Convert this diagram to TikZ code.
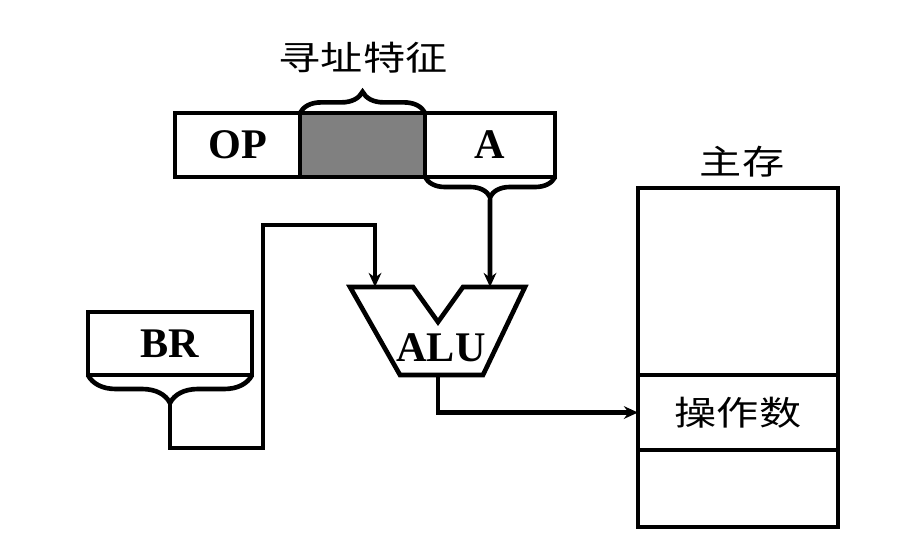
\documentclass[tikz,border=0pt]{standalone}
\usepackage{fontspec}
\setmainfont{Liberation Serif}
\newfontfamily\cjk[FakeStretch=1.25]{Noto Sans CJK SC}
\usetikzlibrary{decorations.pathreplacing,arrows.meta,calc,positioning}

\begin{document}
\begin{tikzpicture}[x=0.025cm,y=0.025cm,line width=3.3pt]
\tikzstyle{cell}=[draw,rectangle,inner sep=0pt,outer sep=0pt,minimum height=1.6cm,font=\fontsize{30}{36}\selectfont\bfseries]
\tikzstyle{hanzi}=[font=\fontsize{24}{28}\selectfont\cjk]
\tikzstyle{wire}=[-{Stealth[length=10pt,width=9pt]}]
\tikzset{curly/.style={decorate,decoration={brace,amplitude=#1}}}
\useasboundingbox (0,0) rectangle (913,550);
% instruction word
\node[cell,minimum width=3.125cm] (op) at (237.5,405) {OP};
\node[cell,minimum width=3.125cm,fill=gray,right=0pt of op] (addr) {};
\node[cell,minimum width=3.25cm,right=0pt of addr] (a) {A};
\node[hanzi] (feature) at (363,492) {寻址特征};
\draw[curly=0.53cm] (addr.north west) -- (addr.north east);
\draw[curly=0.5cm] (a.south east) -- (a.south west);
\coordinate (atip) at ($(a.south)+(0,-20)$);
% base register
\node[cell,minimum width=4.1cm,minimum height=1.575cm] (br) at (170,206.5) {BR};
\draw[curly=0.7cm] (br.south east) -- (br.south west);
\coordinate (brtip) at ($(br.south)+(0,-28)$);
% alu
\draw (350,263) -- (413,263) -- (438,228) -- (463,263) -- (525,263) -- (483,175) -- (400,175) -- cycle;
\node[font=\fontsize{30}{36}\selectfont\bfseries] (alu) at (441,202) {ALU};
\coordinate (aluinl) at (375,263);
\coordinate (aluinr) at (490,263);
\coordinate (aluout) at (438,175);
\coordinate (turn) at (263,325);
% main memory
\node[cell,minimum width=5cm,minimum height=4.675cm] (memtop) at (738,268.5) {};
\node[cell,hanzi,minimum width=5cm,minimum height=1.875cm,below=0pt of memtop] (memop) {操作数};
\node[cell,minimum width=5cm,minimum height=1.925cm,below=0pt of memop] (membot) {};
\node[hanzi] (mem) at (742,388) {主存};
% data paths
\draw[wire] (atip) -- (aluinr);
\draw[wire] (brtip) -- ++(0,-45) -| (turn) -| (aluinl);
\draw[wire] (aluout) |- (memop.west);
\end{tikzpicture}
\end{document}
